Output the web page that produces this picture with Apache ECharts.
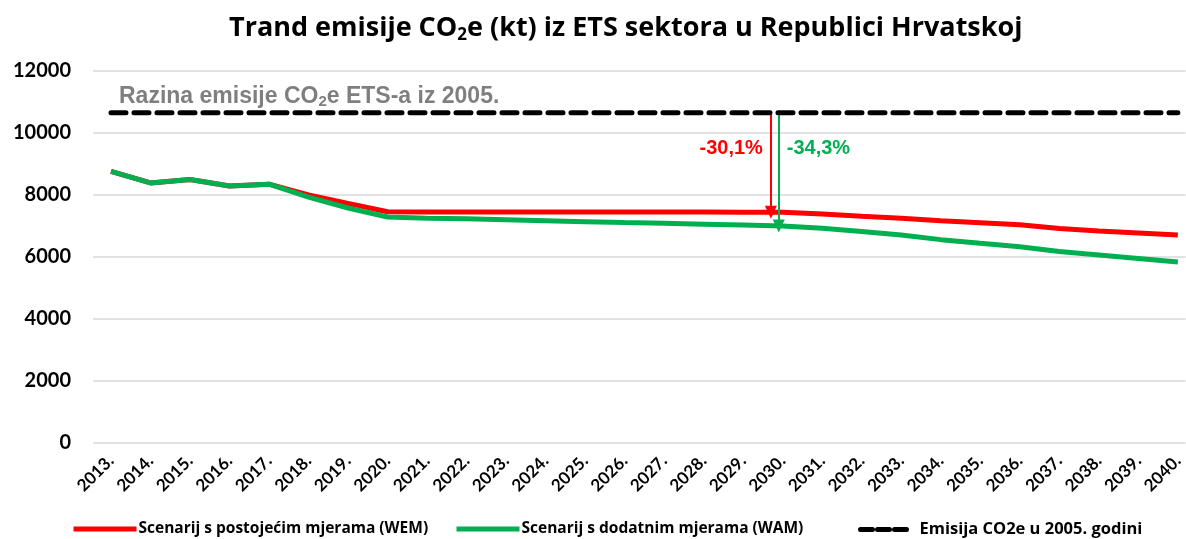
<!DOCTYPE html>
<html>
<head>
<meta charset="utf-8">
<script src="https://cdn.jsdelivr.net/npm/echarts@6/dist/echarts.min.js"></script>
<style>
  html, body { margin: 0; padding: 0; background: #fff; }
  #chart { width: 1186px; height: 539px; }
</style>
</head>
<body>
<div id="chart"></div>
<script>
// Emission years shown on the horizontal axis
const years = [2013, 2014, 2015, 2016, 2017, 2018, 2019, 2020, 2021, 2022,
               2023, 2024, 2025, 2026, 2027, 2028, 2029, 2030, 2031, 2032,
               2033, 2034, 2035, 2036, 2037, 2038, 2039, 2040];

// Scenario with existing measures (WEM), kt CO2e
const wem = [8760, 8390, 8500, 8290, 8350, 8000, 7730, 7460, 7455, 7455,
             7455, 7450, 7450, 7450, 7450, 7448, 7446, 7444, 7390, 7315,
             7250, 7170, 7105, 7040, 6920, 6840, 6775, 6710];

// Scenario with additional measures (WAM), kt CO2e
const wam = [8760, 8390, 8500, 8290, 8350, 7930, 7580, 7290, 7250, 7230,
             7200, 7170, 7140, 7110, 7090, 7060, 7030, 6997, 6925, 6820,
             6710, 6560, 6440, 6330, 6175, 6065, 5955, 5840];

// ETS emission level of 2005, kt CO2e
const baseline2005 = 10650;

// Reduction in 2030 relative to 2005, percent
const targetYear = 2030;
const reductionWem = -30.1;
const reductionWam = -34.3;

// Y axis ticks
const yTicks = [0, 2000, 4000, 6000, 8000, 10000, 12000];

const names = {
  wem: 'Scenarij s postojećim mjerama (WEM)',
  wam: 'Scenarij s dodatnim mjerama (WAM)',
  base: 'Emisija CO2e u 2005. godini'
};

const RED = '#FF0000';
const GREEN = '#00B050';
const sans = '"Open Sans", Lato, sans-serif';
const lato = 'Lato, "Open Sans", sans-serif';
const arial = '"Liberation Sans", Arial, sans-serif';

const pairs = (vals) => years.map((y, i) => [y, vals[i]]);
const fmtPct = (p) => p.toFixed(1).replace('.', ',') + '%';
const arrowEnd = (p) => baseline2005 * (1 + p / 100);

const chart = echarts.init(document.getElementById('chart'), null, { renderer: 'canvas' });

// Vertical arrow from the 2005 level down to a scenario line, with its percentage label
function arrow(color, x, pct, side) {
  return {
    markLine: {
      silent: true,
      symbol: ['none', 'triangle'],
      symbolSize: [12, 13],
      lineStyle: { color: color, width: 2, type: 'solid' },
      label: { show: false },
      data: [[{ coord: [x, baseline2005] }, { coord: [x, arrowEnd(pct)] }]]
    },
    markPoint: {
      silent: true,
      symbol: 'circle',
      symbolSize: 0,
      data: [{ coord: [x, 9500] }],
      label: {
        show: true,
        position: side,
        distance: 8,
        formatter: fmtPct(pct),
        color: color,
        fontFamily: arial,
        fontWeight: 'bold',
        fontSize: 20
      }
    }
  };
}

const legendBase = {
  itemWidth: 63,
  itemHeight: 12,
  itemGap: 0,
  itemStyle: { opacity: 0 },
  lineStyle: { width: 5 },
  textStyle: { fontFamily: sans, fontWeight: 'bold', fontSize: 15.5, color: '#000', padding: [0, 0, 0, -3] },
  selectedMode: false
};

const option = {
  backgroundColor: '#ffffff',
  animation: false,
  title: {
    text: '{t|Trand emisije CO}{s|2}{t|e (kt) iz ETS sektora u Republici Hrvatskoj}',
    left: 224,
    top: 8,
    textStyle: {
      rich: {
        t: { fontFamily: sans, fontWeight: 'bold', fontSize: 27, color: '#000' },
        s: { fontFamily: sans, fontWeight: 'bold', fontSize: 17, color: '#000', padding: [14, 0, 0, 0] }
      }
    }
  },
  grid: { left: 93, right: 0, top: 71, bottom: 96, containLabel: false },
  xAxis: {
    type: 'value',
    min: 2012.545,
    max: 2040.2,
    axisLine: { show: false },
    axisTick: { show: false },
    splitLine: { show: false },
    axisLabel: {
      customValues: years,
      rotate: 45,
      margin: 15,
      formatter: (v) => v + '.',
      fontFamily: lato,
      fontWeight: 'bold',
      fontSize: 17,
      color: '#000'
    }
  },
  yAxis: {
    type: 'value',
    min: yTicks[0],
    max: yTicks[yTicks.length - 1],
    interval: yTicks[1] - yTicks[0],
    axisLine: { show: false },
    axisTick: { show: false },
    splitLine: { lineStyle: { color: '#D9D9D9', width: 1.5 } },
    axisLabel: {
      margin: 22,
      formatter: (v) => String(v),
      fontFamily: lato,
      fontWeight: 'bold',
      fontSize: 20,
      color: '#000'
    }
  },
  legend: [
    Object.assign({}, legendBase, { data: [names.wem], left: 66, top: 516 }),
    Object.assign({}, legendBase, { data: [names.wam], left: 449, top: 516 }),
    Object.assign({}, legendBase, {
      data: [names.base], left: 853, top: 516, itemWidth: 50,
      textStyle: Object.assign({}, legendBase.textStyle, { fontSize: 16.5, padding: [0, 0, 0, 4] }),
      lineStyle: { width: 5, type: [12, 5], cap: 'round' }
    })
  ],
  graphic: [{
    type: 'text',
    left: 119,
    top: 85,
    style: {
      text: '{t|Razina emisije CO}{s|2}{t|e ETS-a iz 2005.}',
      rich: {
        t: { fontFamily: arial, fontWeight: 'bold', fontSize: 23, fill: '#7F7F7F' },
        s: { fontFamily: arial, fontWeight: 'bold', fontSize: 15, fill: '#7F7F7F', padding: [11, 0, 0, 0] }
      }
    }
  }],
  series: [
    Object.assign({
      name: names.wem,
      type: 'line',
      data: pairs(wem),
      symbol: 'none',
      lineStyle: { color: RED, width: 5 },
      itemStyle: { color: RED },
      z: 3
    }, arrow(RED, targetYear - 0.3, reductionWem, 'left')),
    Object.assign({
      name: names.wam,
      type: 'line',
      data: pairs(wam),
      symbol: 'none',
      lineStyle: { color: GREEN, width: 5 },
      itemStyle: { color: GREEN },
      z: 4
    }, arrow(GREEN, targetYear - 0.1, reductionWam, 'right')),
    {
      name: names.base,
      type: 'line',
      data: [[years[0], baseline2005], [years[years.length - 1], baseline2005]],
      symbol: 'none',
      lineStyle: { color: '#000', width: 5, type: [15, 8], cap: 'round' },
      itemStyle: { color: '#000' },
      z: 5
    }
  ]
};

chart.setOption(option);
</script>
</body>
</html>
